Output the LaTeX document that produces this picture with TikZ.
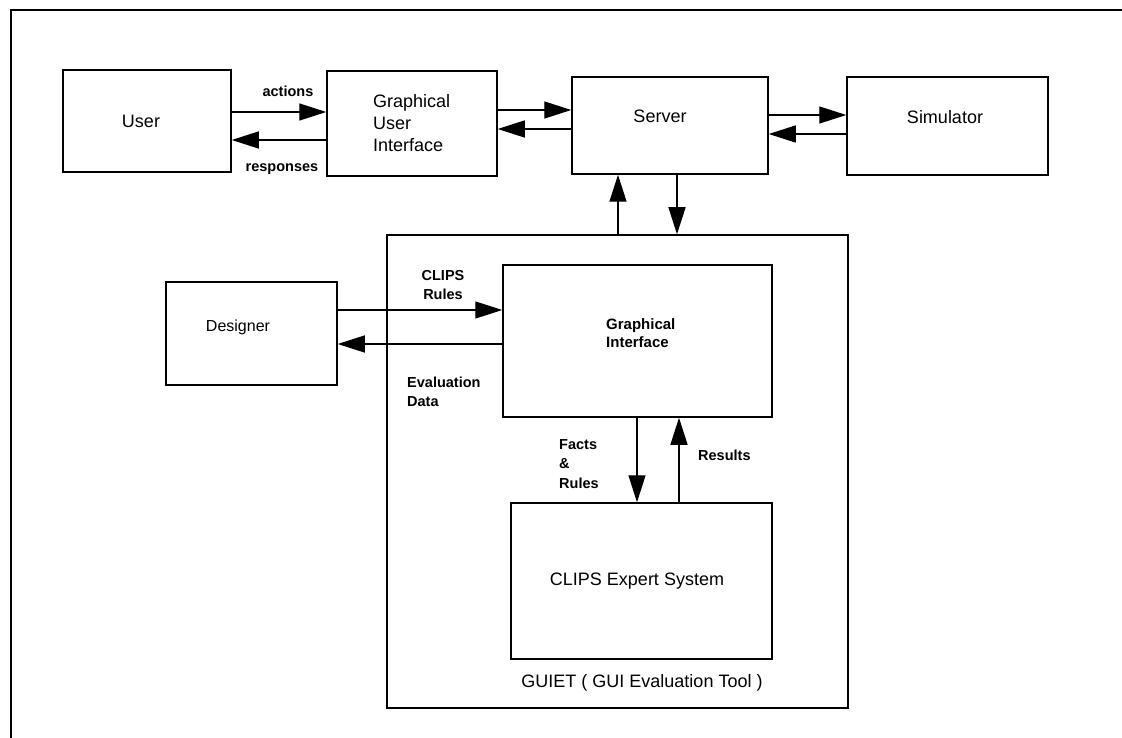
\documentclass[tikz,border=0pt]{standalone}
\usepackage{fontspec}
\setmainfont{Liberation Sans}
\usetikzlibrary{arrows.meta}
\begin{document}
\begin{tikzpicture}[x=1pt,y=-1pt,
  box/.style={draw,line width=1.5pt,inner sep=0pt},
  arr/.style={line width=1.3pt,-{Triangle[length=27pt,width=17pt]}},
  title/.style={font=\fontsize{18}{22}\selectfont,inner sep=0pt},
  lab/.style={font=\bfseries\fontsize{14.5}{19.5}\selectfont,inner sep=0pt}]
\useasboundingbox (0,0) rectangle (1122,738);
% outer frame
\draw[line width=2pt] (11,738) -- (11,10) -- (1122,10);
% boxes
\node[box,minimum width=168pt,minimum height=102pt] (user) at (147,121) {};
\node[box,minimum width=170pt,minimum height=105pt] (gui) at (412,123.5) {};
\node[box,minimum width=196pt,minimum height=97pt] (server) at (670,125.5) {};
\node[box,minimum width=201pt,minimum height=98pt] (sim) at (947.5,126) {};
\node[box,minimum width=461pt,minimum height=473pt] (guiet) at (617.5,471.5) {};
\node[box,minimum width=269pt,minimum height=152pt] (gi) at (637.5,341) {};
\node[box,minimum width=261pt,minimum height=156pt] (clips) at (641.5,581) {};
\node[box,minimum width=171pt,minimum height=103pt] (designer) at (251.5,333.5) {};
% box texts
\node[title] (tuser) at (141,121) {User};
\node[title,align=left,anchor=west] (tgui) at (373,123) {Graphical\\User\\Interface};
\node[title] (tserver) at (660,116) {Server};
\node[title] (tsim) at (945,117) {Simulator};
\node[title,font=\fontsize{16}{20}\selectfont] (tdes) at (238,327) {Designer};
\node[lab,font=\bfseries\fontsize{15}{18}\selectfont,align=left,anchor=west] (tgi) at (606,333) {Graphical\\Interface};
\node[title] (tclips) at (637,581) {CLIPS Expert System};
\node[title] (tguiet) at (642,683) {GUIET ( GUI Evaluation Tool )};
% connectors
\draw[arr] (user.east |- 0,112) -- (gui.west |- 0,112);
\draw[arr] (gui.west |- 0,140) -- (user.east |- 0,140);
\draw[arr] (gui.east |- 0,110) -- (server.west |- 0,110);
\draw[arr] (server.west |- 0,129) -- (gui.east |- 0,129);
\draw[arr] (server.east |- 0,115) -- (sim.west |- 0,115);
\draw[arr] (sim.west |- 0,134) -- (server.east |- 0,134);
\draw[arr] (guiet.north -| 618,0) -- (server.south -| 618,0);
\draw[arr] (server.south -| 677,0) -- (guiet.north -| 677,0);
\draw[arr] (designer.east |- 0,310) -- (gi.west |- 0,310);
\draw[arr] (gi.west |- 0,344) -- (designer.east |- 0,344);
\draw[arr] (gi.south -| 637,0) -- (clips.north -| 637,0);
\draw[arr] (clips.north -| 679,0) -- (gi.south -| 679,0);
% labels
\node[lab] (lact) at (288,91) {actions};
\node[lab] (lresp) at (282,169) {responses};
\node[lab,align=center] (lrules) at (443,285) {CLIPS\\Rules};
\node[lab,align=left,anchor=west] (leval) at (407,392) {Evaluation\\Data};
\node[lab,align=left,anchor=west] (lfacts) at (559,464) {Facts\\\&\\Rules};
\node[lab,anchor=west] (lres) at (698,455) {Results};
\end{tikzpicture}
\end{document}
